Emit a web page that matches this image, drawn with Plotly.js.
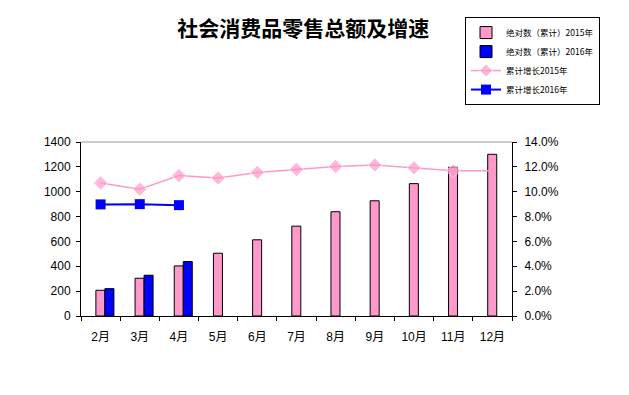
<!DOCTYPE html>
<html><head><meta charset="utf-8">
<script src="https://cdn.plot.ly/plotly-3.0.1.min.js"></script>
<style>html,body{margin:0;padding:0;background:#fff;}#chart{width:629px;height:395px;}</style>
</head><body><div id="chart"></div>
<script>
const months = ["2月","3月","4月","5月","6月","7月","8月","9月","10月","11月","12月"];
const abs2015 = [207, 304, 403, 505, 613, 723, 839, 927, 1065, 1197, 1301];
const months2016 = ["2月","3月","4月"];
const abs2016 = [220, 328, 438];
const growth2015 = [0.107, 0.102, 0.113, 0.111, 0.1155, 0.118, 0.1203, 0.1215, 0.1193, 0.1168, 0.1168];
const growth2016 = [0.0898, 0.090, 0.0892];
const names = ["绝对数（累计）2015年","绝对数（累计）2016年","累计增长2015年","累计增长2016年"];

const tickFont = {family:"Liberation Sans, Arial, Noto Sans CJK SC", size:12, color:"#000"};
const traces = [
  {type:"bar", name:names[0], x:months, y:abs2015, width:0.23, offset:-0.12,
   marker:{color:"#FF99CC", line:{color:"#000", width:1}}},
  {type:"bar", name:names[1], x:months2016, y:abs2016, width:0.23, offset:0.11,
   marker:{color:"#0000FF", line:{color:"#000", width:1}}},
  {type:"scatter", mode:"lines+markers", name:names[2], x:months, y:growth2015, yaxis:"y2",
   line:{color:"#FF99CC", width:1.5},
   marker:{symbol:"diamond", size:months.map((m,i)=>i===months.length-1?0:11), color:"#FF99CC"}},
  {type:"scatter", mode:"lines+markers", name:names[3], x:months2016, y:growth2016, yaxis:"y2",
   line:{color:"#0000FF", width:2}, marker:{symbol:"square", size:10, color:"#0000FF"}}
];
const layout = {
  width:629, height:395,
  margin:{l:81, r:117, t:142, b:79},
  paper_bgcolor:"#fff", plot_bgcolor:"#fff",
  title:{text:"<b>社会消费品零售总额及增速</b>", font:{family:"Noto Sans CJK SC", size:21, color:"#000"},
         x:0.482, xanchor:"center", y:0.928, yanchor:"middle"},
  barmode:"overlay",
  xaxis:{type:"category", categoryorder:"array", categoryarray:months, range:[-0.5,10.5],
         showline:true, linecolor:"#000", linewidth:1, ticks:"outside", tickson:"boundaries",
         ticklen:4, tickcolor:"#000", tickfont:tickFont, showgrid:false, zeroline:false,
         ticklabelstandoff:10},
  yaxis:{range:[0,1400], dtick:200, showline:true, linecolor:"#000", linewidth:1,
         ticks:"outside", ticklen:4, tickcolor:"#000", tickfont:tickFont, showgrid:false, zeroline:false,
         ticklabelstandoff:3},
  yaxis2:{overlaying:"y", side:"right", range:[0,0.14], dtick:0.02, tickformat:".1%",
          showline:true, linecolor:"#000", linewidth:1, ticks:"outside", ticklen:4, tickcolor:"#000",
          tickfont:tickFont, showgrid:false, zeroline:false, ticklabelstandoff:5},
  shapes:[{type:"line", xref:"paper", yref:"paper", x0:0, x1:1, y0:1, y1:1, line:{color:"#999", width:1}}],
  legend:{x:0.891, y:1.718, xanchor:"left", yanchor:"top", bgcolor:"#fff", bordercolor:"#000", borderwidth:1,
          font:{family:"Noto Sans CJK SC", size:8.5, color:"#000"}, tracegroupgap:0, itemwidth:30},
  showlegend:true
};
Plotly.newPlot("chart", traces, layout, {staticPlot:true});
</script></body></html>
